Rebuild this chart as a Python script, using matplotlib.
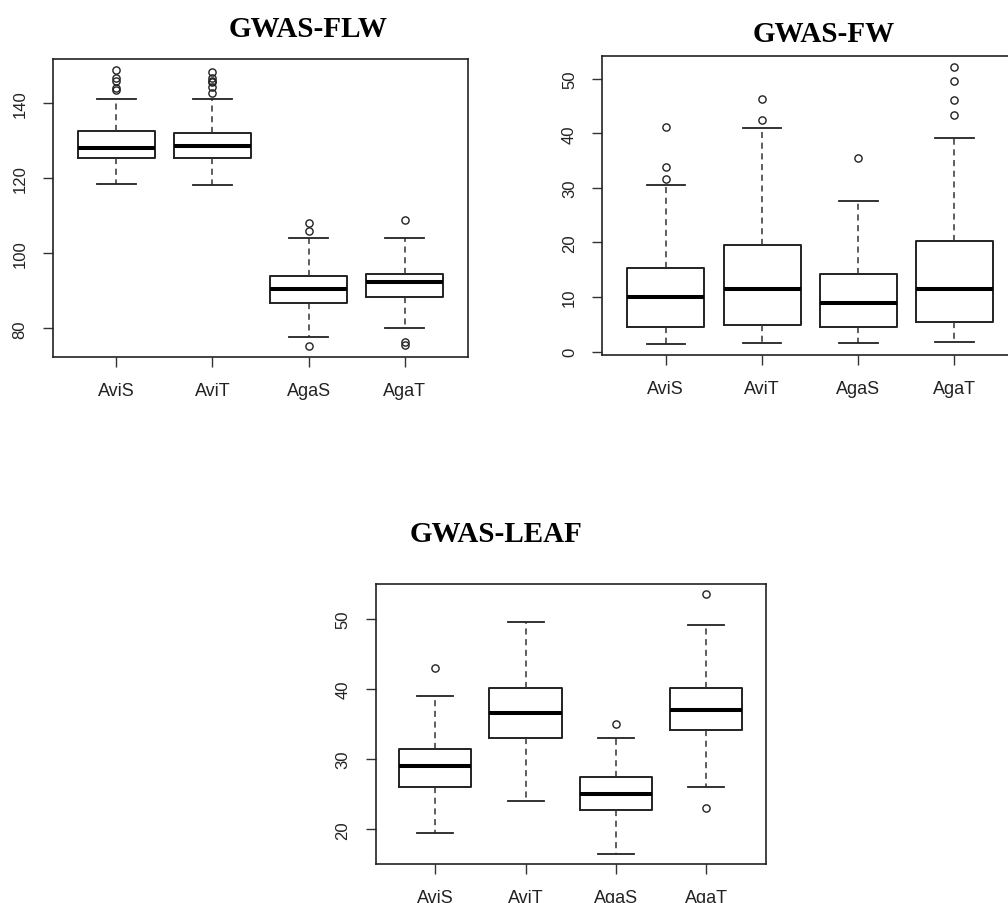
import matplotlib
matplotlib.use("Agg")
import matplotlib.pyplot as plt

categories = ["AviS", "AviT", "AgaS", "AgaT"]

# GWAS-FLW
flw_med = [128.0, 128.5, 90.4, 92.2]
flw_q1 = [125.4, 125.4, 86.7, 88.2]
flw_q3 = [132.4, 132.0, 94.0, 94.5]
flw_lo = [118.4, 118.1, 77.6, 80.0]
flw_hi = [140.9, 140.9, 104.0, 104.0]
flw_out = [[148.7, 146.5, 145.8, 144.0, 143.3],
           [148.1, 146.5, 145.9, 145.5, 144.3, 142.5],
           [108.1, 105.8, 75.3],
           [108.9, 76.4, 75.5]]

# GWAS-FW
fw_med = [10.0, 11.5, 8.95, 11.5]
fw_q1 = [4.55, 4.8, 4.55, 5.35]
fw_q3 = [15.25, 19.6, 14.15, 20.3]
fw_lo = [1.4, 1.6, 1.6, 1.8]
fw_hi = [30.6, 40.9, 27.6, 39.2]
fw_out = [[41.1, 33.9, 31.6],
          [46.3, 42.5],
          [35.4],
          [52.1, 49.6, 46.1, 43.3]]

# GWAS-LEAF
leaf_med = [29.05, 36.55, 25.1, 37.0]
leaf_q1 = [26.0, 33.0, 22.8, 34.1]
leaf_q3 = [31.5, 40.1, 27.5, 40.1]
leaf_lo = [19.55, 24.0, 16.5, 26.0]
leaf_hi = [39.0, 49.55, 33.05, 49.1]
leaf_out = [[43.0], [], [35.0], [53.55, 23.1]]

W, H = 1008, 904
fig = plt.figure(figsize=(W / 100, H / 100), dpi=100)
fig.patch.set_facecolor("white")

def px_axes(x0, y0, x1, y1):
    return fig.add_axes([x0 / W, 1 - y1 / H, (x1 - x0) / W, (y1 - y0) / H])

def draw(ax, med, q1, q3, lo, hi, out, yticks):
    stats = []
    for i in range(len(categories)):
        stats.append(dict(med=med[i], q1=q1[i], q3=q3[i], whislo=lo[i],
                          whishi=hi[i], fliers=out[i], label=categories[i]))
    ax.bxp(stats, positions=range(1, len(categories) + 1), widths=0.8,
           showfliers=True, patch_artist=False,
           boxprops=dict(color="#222222", linewidth=1.4),
           medianprops=dict(color="black", linewidth=2.9, solid_capstyle="butt"),
           whiskerprops=dict(color="#333333", linewidth=1.1, linestyle=(0, (4, 3))),
           capprops=dict(color="#222222", linewidth=1.3),
           capwidths=0.4,
           flierprops=dict(marker="o", markerfacecolor="none",
                           markeredgecolor="#222222", markersize=5.2, markeredgewidth=1.0))
    allv = lo + hi + [v for o in out for v in o]
    lo_v, hi_v = min(allv), max(allv)
    r = hi_v - lo_v
    ax.set_ylim(lo_v - 0.04 * r, hi_v + 0.04 * r)
    ax.set_xlim(0.5 - 0.16, len(categories) + 0.5 + 0.16)
    ax.set_yticks(yticks)
    ax.set_yticklabels([str(t) for t in yticks], rotation=90, va="center",
                       fontfamily="Liberation Sans", fontsize=12, color="#222222")
    ax.set_xticks(range(1, len(categories) + 1))
    ax.set_xticklabels(categories, fontfamily="Liberation Sans", fontsize=13, color="#222222")
    ax.tick_params(axis="both", direction="out", length=7.2, width=1.0, color="#333333")
    ax.tick_params(axis="x", pad=10.5)
    ax.tick_params(axis="y", pad=11)
    for s in ax.spines.values():
        s.set_linewidth(1.2)
        s.set_color("#222222")

ax1 = px_axes(53, 60, 468, 358)
draw(ax1, flw_med, flw_q1, flw_q3, flw_lo, flw_hi, flw_out, [80, 100, 120, 140])

ax2 = px_axes(602.3, 57.3, 1018, 356)
draw(ax2, fw_med, fw_q1, fw_q3, fw_lo, fw_hi, fw_out, [0, 10, 20, 30, 40, 50])

ax3 = px_axes(375.7, 584.7, 765.7, 865.3)
draw(ax3, leaf_med, leaf_q1, leaf_q3, leaf_lo, leaf_hi, leaf_out, [20, 30, 40, 50])

tkw = dict(fontfamily="Liberation Serif", fontweight="bold", fontsize=21,
           ha="center", va="baseline", color="black")
fig.text(308 / W, 1 - 37.3 / H, "GWAS-FLW", **tkw)
fig.text(823.7 / W, 1 - 41.7 / H, "GWAS-FW", **tkw)
fig.text(496.5 / W, 1 - 541.7 / H, "GWAS-LEAF", **tkw)

fig.savefig("out.png", dpi=100, facecolor="white")
